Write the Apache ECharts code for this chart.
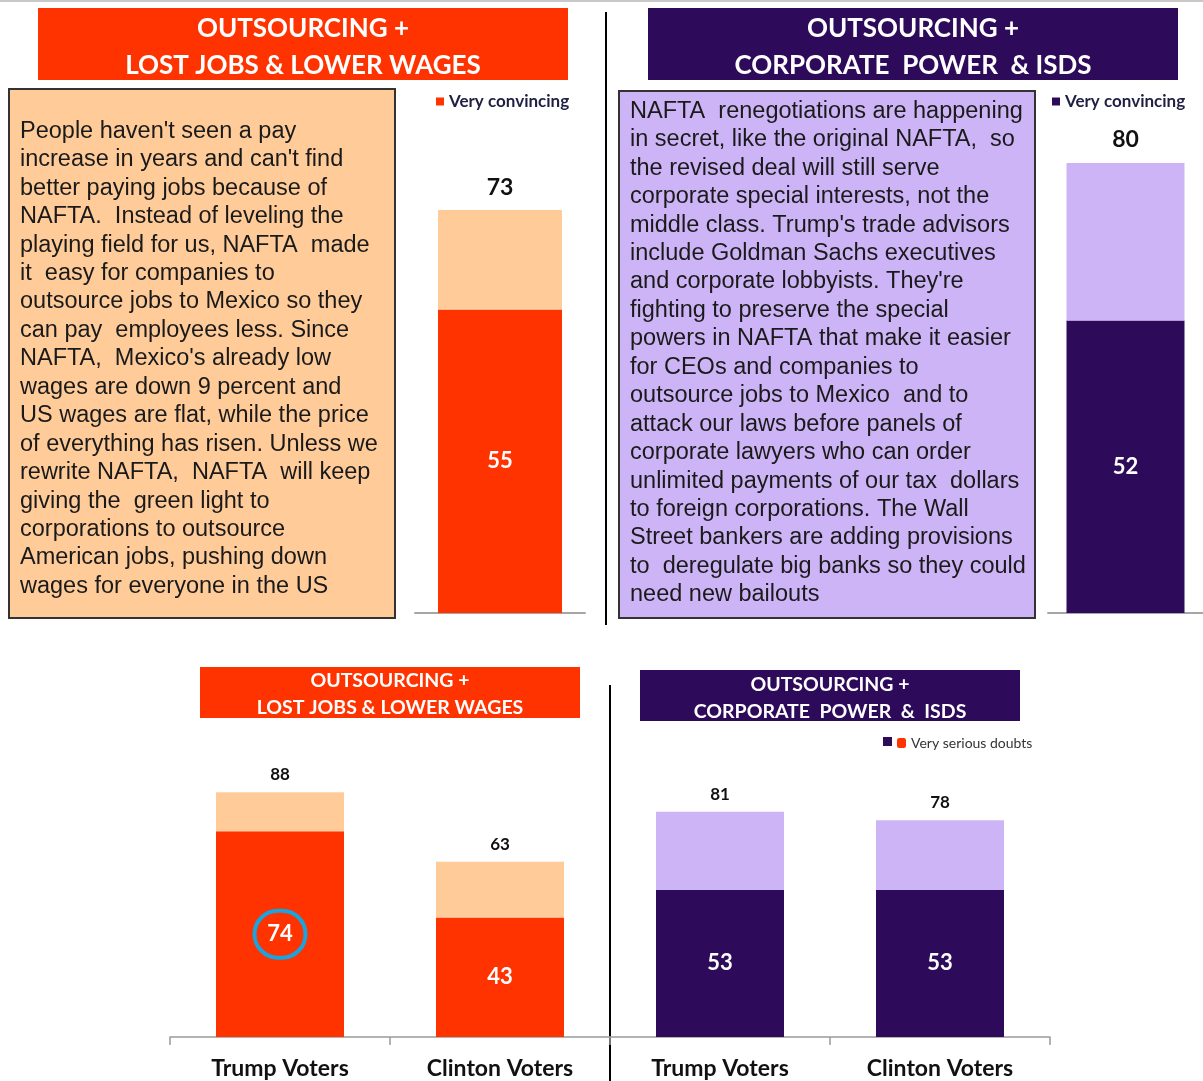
<!DOCTYPE html>
<html style="height: 100%">
<head>
<meta charset="utf-8">
</head>
<body style="height: 100%; margin: 0; background: #fff">
<div id="container" style="width: 1203px; height: 1081px"></div>
<script src="https://cdn.jsdelivr.net/npm/echarts@6/dist/echarts.min.js"></script>
<script>
// data
var wagesCategory = ['Lost jobs & lower wages'];
var wagesConvincing = [55];
var wagesTotal = [73];

var isdsCategory = ['Corporate power & ISDS'];
var isdsConvincing = [52];
var isdsTotal = [80];

var voterCategories = ['Trump Voters', 'Clinton Voters'];
var wagesDoubts = [74, 43];
var wagesDoubtsTotal = [88, 63];
var isdsDoubts = [53, 53];
var isdsDoubtsTotal = [81, 78];

var wagesText = [
  "People haven't seen a pay",
  "increase in years and can't find",
  "better paying jobs because of",
  "NAFTA.  Instead of leveling the",
  "playing field for us, NAFTA  made",
  "it  easy for companies to",
  "outsource jobs to Mexico so they",
  "can pay  employees less. Since",
  "NAFTA,  Mexico's already low",
  "wages are down 9 percent and",
  "US wages are flat, while the price",
  "of everything has risen. Unless we",
  "rewrite NAFTA,  NAFTA  will keep",
  "giving the  green light to",
  "corporations to outsource",
  "American jobs, pushing down",
  "wages for everyone in the US"
];
var isdsText = [
  "NAFTA  renegotiations are happening",
  "in secret, like the original NAFTA,  so",
  "the revised deal will still serve",
  "corporate special interests, not the",
  "middle class. Trump's trade advisors",
  "include Goldman Sachs executives",
  "and corporate lobbyists. They're",
  "fighting to preserve the special",
  "powers in NAFTA that make it easier",
  "for CEOs and companies to",
  "outsource jobs to Mexico  and to",
  "attack our laws before panels of",
  "corporate lawyers who can order",
  "unlimited payments of our tax  dollars",
  "to foreign corporations. The Wall",
  "Street bankers are adding provisions",
  "to  deregulate big banks so they could",
  "need new bailouts"
];

var RED = '#FF3300', PEACH = '#FFCC99', PURPLE = '#2D0A5A', LAVENDER = '#CDB4F6';
var HEAD = 'Lato, "Open Sans", sans-serif';

function minus(a, b) { return a.map(function (v, i) { return v - b[i]; }); }

function banner(x, y, w, h, color, lines, size, gap, dy) {
  return {
    type: 'group',
    children: [
      { type: 'rect', shape: { x: x, y: y, width: w, height: h }, style: { fill: color } },
      { type: 'text', x: x + w / 2, y: y + h / 2 + dy,
        style: { text: lines.join('\n'), fill: '#fff', fontSize: size, fontFamily: HEAD, fontWeight: 'bold',
                 align: 'center', verticalAlign: 'middle', lineHeight: gap } }
    ]
  };
}

function textBox(x, y, w, h, color, tx, ty, lines) {
  return {
    type: 'group',
    children: [
      { type: 'rect', shape: { x: x, y: y, width: w, height: h },
        style: { fill: color, stroke: '#333', lineWidth: 2 } },
      { type: 'text', x: tx, y: ty,
        style: { text: lines.join('\n'), fill: '#1a1a1a', fontSize: 23.5,
                 fontFamily: '"Liberation Sans", Arial, sans-serif', lineHeight: 28.45,
                 align: 'left', verticalAlign: 'top' } }
    ]
  };
}

var numStyle = { fontFamily: HEAD, fontWeight: 'bold' };
var catLabel = { margin: 20, fontSize: 23, fontWeight: 'bold', color: '#111', fontFamily: HEAD };

var myChart = echarts.init(document.getElementById('container'));
var option = {
  animation: false,
  graphic: [
    { type: 'rect', shape: { x: 0, y: 0, width: 1203, height: 2 }, style: { fill: '#c8c8c8' } },
    banner(38, 8, 530, 72, RED, ['OUTSOURCING +', 'LOST JOBS & LOWER WAGES'], 26, 37, 3),
    banner(648, 8, 530, 72, PURPLE, ['OUTSOURCING +', 'CORPORATE  POWER  & ISDS'], 26, 37, 3),
    textBox(9, 89, 386, 529, PEACH, 20, 117, wagesText),
    textBox(619, 91, 416, 527, LAVENDER, 630, 97, isdsText),
    { type: 'line', shape: { x1: 606, y1: 12, x2: 606, y2: 625 }, style: { stroke: '#000', lineWidth: 2 } },
    banner(200, 667, 380, 51, RED, ['OUTSOURCING +', 'LOST JOBS & LOWER WAGES'], 19.5, 27, 2),
    banner(640, 670, 380, 51, PURPLE, ['OUTSOURCING +', 'CORPORATE  POWER  &  ISDS'], 19.5, 27, 3),
    { type: 'line', shape: { x1: 610, y1: 685, x2: 610, y2: 1081 }, style: { stroke: '#000', lineWidth: 2 } }
  ],
  legend: [
    { left: 431, top: 88, itemWidth: 8, itemHeight: 8, icon: 'rect',
      data: [{ name: 'Very convincing', itemStyle: { color: RED } }],
      textStyle: { fontFamily: HEAD, fontWeight: 'bold', fontSize: 17, color: '#1F2044' } },
    { left: 1047, top: 88, itemWidth: 8, itemHeight: 8, icon: 'rect',
      data: [{ name: 'Very convincing', itemStyle: { color: PURPLE } }],
      textStyle: { fontFamily: HEAD, fontWeight: 'bold', fontSize: 17, color: '#1F2044' } },
    { left: 878, top: 732, itemWidth: 9, itemHeight: 9, icon: 'rect',
      data: [{ name: 'Very serious doubts', itemStyle: { color: PURPLE } }],
      formatter: function () { return ''; } },
    { left: 892, top: 731, itemWidth: 9, itemHeight: 10, icon: 'roundRect',
      data: [{ name: 'Very serious doubts', itemStyle: { color: RED } }],
      textStyle: { fontFamily: HEAD, fontSize: 14, color: '#333' } }
  ],
  grid: [
    { left: 415, top: 61, width: 170, height: 552 },
    { left: 1048, top: 50.5, width: 164, height: 562.5 },
    { left: 170, top: 759, width: 440, height: 278 },
    { left: 610, top: 759, width: 440, height: 278 }
  ],
  xAxis: [
    { gridIndex: 0, type: 'category', data: wagesCategory,
      axisLine: { lineStyle: { color: '#A6A6A6', width: 2 } }, axisTick: { show: false }, axisLabel: { show: false } },
    { gridIndex: 1, type: 'category', data: isdsCategory,
      axisLine: { lineStyle: { color: '#A6A6A6', width: 2 } }, axisTick: { show: false }, axisLabel: { show: false } },
    { gridIndex: 2, type: 'category', data: voterCategories,
      axisLine: { lineStyle: { color: '#9a9a9a', width: 1.5 } },
      axisTick: { show: true, alignWithLabel: false, length: 8, lineStyle: { color: '#9a9a9a', width: 1.5 } },
      axisLabel: catLabel },
    { gridIndex: 3, type: 'category', data: voterCategories,
      axisLine: { lineStyle: { color: '#9a9a9a', width: 1.5 } },
      axisTick: { show: true, alignWithLabel: false, length: 8, lineStyle: { color: '#9a9a9a', width: 1.5 } },
      axisLabel: catLabel }
  ],
  yAxis: [0, 1, 2, 3].map(function (i) {
    return { gridIndex: i, type: 'value', min: 0, max: 100, show: false };
  }),
  series: [
    { name: 'Very convincing', type: 'bar', xAxisIndex: 0, yAxisIndex: 0, stack: 'a', barWidth: 124,
      data: wagesConvincing, itemStyle: { color: RED },
      label: Object.assign({ show: true, position: 'inside', color: '#fff', fontSize: 22 }, numStyle) },
    { name: 'rest-a', type: 'bar', xAxisIndex: 0, yAxisIndex: 0, stack: 'a', barWidth: 124,
      data: minus(wagesTotal, wagesConvincing), itemStyle: { color: PEACH },
      label: Object.assign({ show: true, position: 'top', distance: 11, color: '#111', fontSize: 23,
        formatter: function (p) { return wagesTotal[p.dataIndex]; } }, numStyle) },
    { name: 'Very convincing', type: 'bar', xAxisIndex: 1, yAxisIndex: 1, stack: 'b', barWidth: 118,
      data: isdsConvincing, itemStyle: { color: PURPLE },
      label: Object.assign({ show: true, position: 'inside', color: '#fff', fontSize: 22 }, numStyle) },
    { name: 'rest-b', type: 'bar', xAxisIndex: 1, yAxisIndex: 1, stack: 'b', barWidth: 118,
      data: minus(isdsTotal, isdsConvincing), itemStyle: { color: LAVENDER },
      label: Object.assign({ show: true, position: 'top', distance: 12, color: '#111', fontSize: 23,
        formatter: function (p) { return isdsTotal[p.dataIndex]; } }, numStyle) },
    { name: 'Very serious doubts', type: 'bar', xAxisIndex: 2, yAxisIndex: 2, stack: 'c', barWidth: 128,
      data: wagesDoubts, itemStyle: { color: RED },
      label: Object.assign({ show: true, position: 'inside', color: '#fff', fontSize: 22,
        formatter: function (p) { return p.dataIndex === 0 ? '{ring|' + p.value + '}' : p.value; },
        rich: { ring: { width: 51, height: 47, align: 'center', borderColor: '#1AA3DD', borderWidth: 4,
          borderRadius: 28, color: '#fff', fontSize: 22, fontWeight: 'bold', fontFamily: HEAD } } }, numStyle) },
    { name: 'rest-c', type: 'bar', xAxisIndex: 2, yAxisIndex: 2, stack: 'c', barWidth: 128,
      data: minus(wagesDoubtsTotal, wagesDoubts), itemStyle: { color: PEACH },
      label: Object.assign({ show: true, position: 'top', distance: 9, color: '#111', fontSize: 17,
        formatter: function (p) { return wagesDoubtsTotal[p.dataIndex]; } }, numStyle) },
    { name: 'Very serious doubts', type: 'bar', xAxisIndex: 3, yAxisIndex: 3, stack: 'd', barWidth: 128,
      data: isdsDoubts, itemStyle: { color: PURPLE },
      label: Object.assign({ show: true, position: 'inside', color: '#fff', fontSize: 22 }, numStyle) },
    { name: 'rest-d', type: 'bar', xAxisIndex: 3, yAxisIndex: 3, stack: 'd', barWidth: 128,
      data: minus(isdsDoubtsTotal, isdsDoubts), itemStyle: { color: LAVENDER },
      label: Object.assign({ show: true, position: 'top', distance: 9, color: '#111', fontSize: 17,
        formatter: function (p) { return isdsDoubtsTotal[p.dataIndex]; } }, numStyle) }
  ]
};
myChart.setOption(option, true);
</script>
</body>
</html>
